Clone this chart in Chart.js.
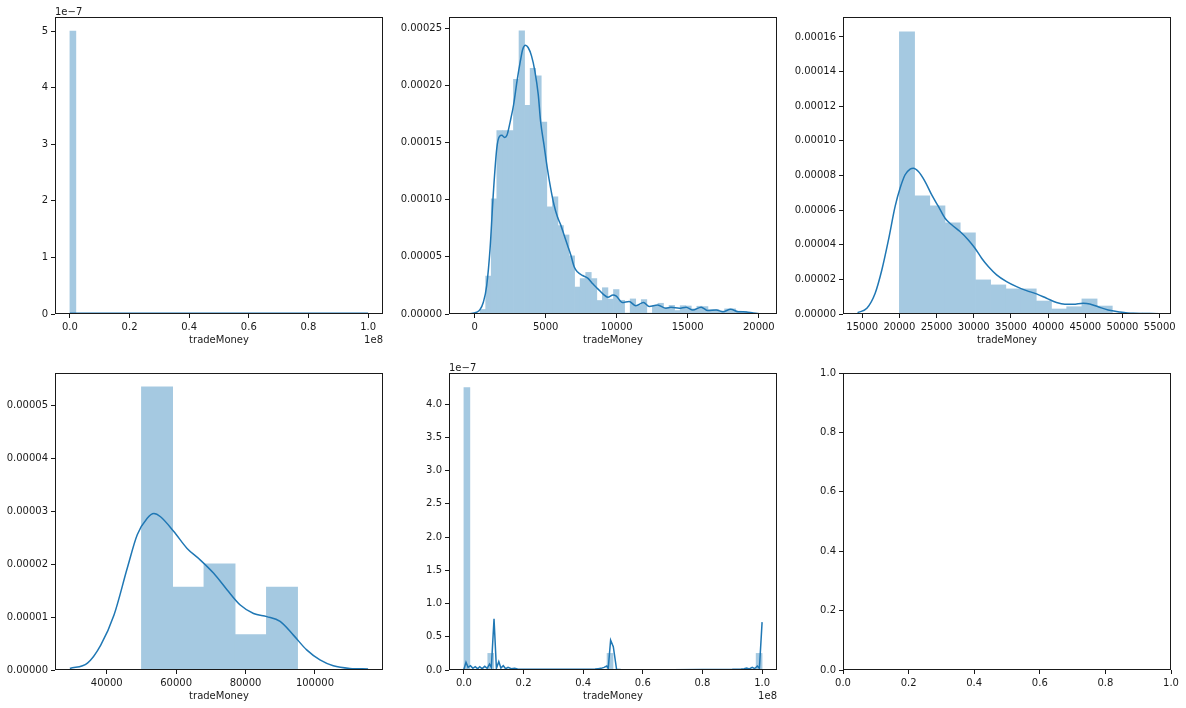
<!DOCTYPE html>
<html>
<head>
<meta charset="utf-8">
<script src="https://cdn.jsdelivr.net/npm/chart.js@4.4.1/dist/chart.umd.min.js"></script>
<style>
  html, body { margin: 0; padding: 0; background: #fff; }
  #fig { position: relative; width: 1186px; height: 708px; overflow: hidden; background: #fff; }
  #fig canvas { position: absolute; }
</style>
</head>
<body>
<div id="fig">
  <canvas id="chart1"></canvas>
  <canvas id="chart2"></canvas>
  <canvas id="chart3"></canvas>
  <canvas id="chart4"></canvas>
  <canvas id="chart5"></canvas>
  <canvas id="chart6"></canvas>
</div>
<script>
// panel 1 : x in units of 1e8, y in units of 1e-7
const p1BinStart = 0.0;
const p1BinWidth = 0.02;
const p1Hist = [
  5.00, 0, 0, 0, 0, 0, 0, 0, 0, 0,
  0, 0, 0, 0, 0, 0, 0, 0, 0, 0,
  0, 0, 0, 0, 0, 0, 0, 0, 0, 0,
  0, 0, 0, 0, 0, 0, 0, 0, 0, 0,
  0, 0, 0, 0, 0, 0, 0, 0, 0, 0
];
const p1KdeX = [0.0, 0.25, 0.5, 0.75, 1.0];
const p1KdeY = [0.012, 0.012, 0.012, 0.012, 0.012];
const p1XTicks = [0.0, 0.2, 0.4, 0.6, 0.8, 1.0];
const p1YTicks = [0, 1, 2, 3, 4, 5];

// panel 2
const p2BinStart = 390;
const p2BinWidth = 391;
const p2Hist = [
  0.0000040, 0.0000332, 0.0001008, 0.0001606, 0.0001606, 0.0001606, 0.0002055, 0.0002478, 0.0001827, 0.0002150,
  0.0002084, 0.0001680, 0.0000938, 0.0001026, 0.0000774, 0.0000692, 0.0000509, 0.0000236, 0.0000310, 0.0000364,
  0.0000310, 0.0000118, 0.0000230, 0.0000130, 0.0000214, 0.0000120, 0.0000008, 0.0000132, 0.0000075, 0.0000126,
  0.0000008, 0.0000073, 0.0000094, 0.0000055, 0.0000075, 0.0000030, 0.0000073, 0.0000070, 0.0000045, 0.0000068,
  0.0000065, 0.0000038, 0.0000038, 0.0000025, 0.0000045, 0.0000045, 0.0000025, 0.0000022, 0.0000015, 0.0000006
];
const p2KdeX = [-806, -332, 142, 379, 616, 853, 1090, 1327, 1564, 1754, 1919, 2109, 2275, 2512, 2749, 2986, 3223,
  3389, 3578, 3768, 4005, 4242, 4479, 4645, 4882, 5118, 5355, 5592, 5829, 6066, 6303, 6540, 6777, 7014, 7251,
  7607, 7962, 8318, 8673, 9029, 9384, 9739, 9976, 10401, 10873, 11344, 11887, 12288, 12877, 13467, 13821, 14410,
  14882, 15354, 15943, 16415, 17005, 17476, 18019, 18538, 19127, 19599, 20259];
const p2KdeY = [0, 0.0000003, 0.0000015, 0.0000038, 0.0000103, 0.0000249, 0.0000572, 0.0001071, 0.0001452,
  0.0001555, 0.0001564, 0.0001546, 0.0001564, 0.0001687, 0.0001834, 0.0002039, 0.0002215, 0.0002318, 0.0002353,
  0.0002333, 0.0002260, 0.0002127, 0.0001922, 0.0001687, 0.0001482, 0.0001276, 0.0001100, 0.0000954, 0.0000851,
  0.0000778, 0.0000690, 0.0000602, 0.0000514, 0.0000411, 0.0000367, 0.0000337, 0.0000314, 0.0000264, 0.0000220,
  0.0000176, 0.0000147, 0.0000167, 0.0000156, 0.0000100, 0.0000110, 0.0000072, 0.0000100, 0.0000065, 0.0000078,
  0.0000050, 0.0000058, 0.0000050, 0.0000060, 0.0000035, 0.0000060, 0.0000030, 0.0000035, 0.0000020, 0.0000042,
  0.0000020, 0.0000018, 0.0000008, 0.0000001];
const p2XTicks = [0, 5000, 10000, 15000, 20000];
const p2YTicks = [0, 0.00005, 0.0001, 0.00015, 0.0002, 0.00025];

// panel 3
const p3BinStart = 20000;
const p3BinWidth = 2045;
const p3Hist = [0.0001629, 0.0000682, 0.0000625, 0.0000526, 0.0000468, 0.0000197, 0.0000168, 0.0000145, 0.0000145,
  0.0000075, 0.0000029, 0.0000042, 0.0000087, 0.0000046, 0.0000005, 0.0000005, 0.0000005];
const p3KdeX = [14374, 15626, 16745, 17640, 18534, 19429, 20100, 20771, 21443, 21890, 22561, 23456, 24351, 25246,
  26140, 27035, 28154, 29272, 30167, 31062, 31957, 33075, 34417, 35759, 37101, 38444, 39786, 41128, 42246, 43365,
  44707, 45602, 46720, 48063, 49629, 51418, 54550];
const p3KdeY = [0.0000008, 0.0000033, 0.0000120, 0.0000254, 0.0000428, 0.0000621, 0.0000727, 0.0000804, 0.0000837,
  0.0000842, 0.0000823, 0.0000765, 0.0000688, 0.0000621, 0.0000553, 0.0000515, 0.0000476, 0.0000428, 0.0000380,
  0.0000322, 0.0000274, 0.0000226, 0.0000187, 0.0000158, 0.0000135, 0.0000116, 0.0000091, 0.0000066, 0.0000056,
  0.0000056, 0.0000062, 0.0000058, 0.0000042, 0.0000023, 0.0000012, 0.0000004, 0.0000002];
const p3XTicks = [15000, 20000, 25000, 30000, 35000, 40000, 45000, 50000, 55000];
const p3YTicks = [0, 0.00002, 0.00004, 0.00006, 0.00008, 0.0001, 0.00012, 0.00014, 0.00016];

// panel 4
const p4BinStart = 50000;
const p4BinWidth = 9000;
const p4Hist = [0.0000536, 0.0000157, 0.0000201, 0.0000067, 0.0000157];
const p4KdeX = [29380, 34450, 38280, 42100, 45930, 48800, 51670, 53590, 55500, 59330, 63160, 66990, 70820, 74650,
  78470, 82300, 86130, 89960, 93790, 97610, 101440, 105270, 110050, 115300];
const p4KdeY = [0.0000003, 0.0000013, 0.0000047, 0.0000104, 0.0000193, 0.0000256, 0.0000287, 0.0000296, 0.0000290,
  0.0000262, 0.0000230, 0.0000208, 0.0000183, 0.0000152, 0.0000123, 0.0000107, 0.0000101, 0.0000092, 0.0000066,
  0.0000038, 0.0000019, 0.0000008, 0.0000003, 0.0000002];
const p4XTicks = [40000, 60000, 80000, 100000];
const p4YTicks = [0, 0.00001, 0.00002, 0.00003, 0.00004, 0.00005];

// panel 5 : x in units of 1e8, y in units of 1e-7
const p5BinStart = 0.0;
const p5BinWidth = 0.02;
const p5Hist = [
  4.25, 0, 0, 0, 0.25, 0, 0, 0, 0, 0,
  0, 0, 0, 0, 0, 0, 0, 0, 0, 0,
  0, 0, 0, 0, 0.25, 0, 0, 0, 0, 0,
  0, 0, 0, 0, 0, 0, 0, 0, 0, 0,
  0, 0, 0, 0, 0, 0, 0, 0, 0, 0.25
];
const p5KdeX = [0.000, 0.007, 0.014, 0.022, 0.030, 0.038, 0.046, 0.053, 0.061, 0.070, 0.078, 0.086, 0.092, 0.101,
  0.109, 0.117, 0.124, 0.132, 0.140, 0.148, 0.159, 0.170, 0.180, 0.200, 0.250, 0.300, 0.350, 0.400, 0.440, 0.450,
  0.460, 0.470, 0.479, 0.484, 0.492, 0.501, 0.512, 0.530, 0.600, 0.700, 0.800, 0.900, 0.930, 0.940, 0.948, 0.957,
  0.967, 0.975, 0.984, 0.991, 1.000];
const p5KdeY = [0.01, 0.116, 0.04, 0.065, 0.025, 0.05, 0.02, 0.05, 0.02, 0.055, 0.025, 0.09, 0.04, 0.77,
  0.025, 0.126, 0.03, 0.065, 0.02, 0.04, 0.02, 0.025, 0.015, 0.012, 0.01, 0.01, 0.01, 0.012, 0.015, 0.02,
  0.025, 0.04, 0.06, 0.025, 0.45, 0.35, 0.01, 0.005, 0.005, 0.005, 0.006, 0.01, 0.015, 0.02, 0.03, 0.015,
  0.04, 0.02, 0.06, 0.025, 0.72];
const p5XTicks = [0.0, 0.2, 0.4, 0.6, 0.8, 1.0];
const p5YTicks = [0.0, 0.5, 1.0, 1.5, 2.0, 2.5, 3.0, 3.5, 4.0];

// panel 6 (empty axes)
const p6XTicks = [0.0, 0.2, 0.4, 0.6, 0.8, 1.0];
const p6YTicks = [0.0, 0.2, 0.4, 0.6, 0.8, 1.0];

const xLabel = "tradeMoney";

// layout: axes boxes [left, top, right, bottom] in page pixels
const axesBoxes = [
  [55, 17, 383, 314], [449, 17, 777, 314], [843, 17, 1171, 314],
  [55, 373, 383, 670], [449, 373, 777, 670], [843, 373, 1171, 670]
];
const PL = 55, PT = 16, PR = 18, PB = 38;

// #1f77b4 at alpha 0.4 over white, opaque so adjacent bars leave no seams
const BAR_COLOR = "rgb(165, 201, 225)";
const LINE_COLOR = "#1f77b4";
const TEXT_COLOR = "#1a1a1a";
const FONT = { family: "'DejaVu Sans', sans-serif", size: 10 };

// spines on all four sides + matplotlib offset text
const axesFrame = {
  id: "axesFrame",
  afterDraw(chart, args, opts) {
    const { ctx, chartArea: a } = chart;
    ctx.save();
    ctx.strokeStyle = TEXT_COLOR;
    ctx.lineWidth = 1;
    ctx.strokeRect(a.left + 0.5, a.top + 0.5, a.right - a.left - 1, a.bottom - a.top - 1);
    ctx.fillStyle = TEXT_COLOR;
    ctx.font = "10px 'DejaVu Sans', sans-serif";
    ctx.textBaseline = "alphabetic";
    if (opts.yOffset) {
      ctx.textAlign = "left";
      ctx.fillText(opts.yOffset, a.left, a.top - 2);
    }
    if (opts.xOffset) {
      ctx.textAlign = "right";
      ctx.fillText(opts.xOffset, a.right, a.bottom + 29);
    }
    ctx.restore();
  }
};

function histPoints(start, width, heights) {
  return heights.map((h, i) => ({ x: start + width * (i + 0.5), y: h }));
}

function kdePoints(xs, ys) {
  return xs.map((x, i) => ({ x: x, y: ys[i] }));
}

function makeAxis(tickList, min, max, decimals, isX, title) {
  return {
    type: "linear",
    min: min,
    max: max,
    offset: false,
    afterBuildTicks: (s) => { s.ticks = tickList.map(v => ({ value: v })); },
    afterFit: (s) => { if (isX) s.height = PB; else s.width = PL; },
    ticks: {
      callback: (v) => Number(v).toFixed(decimals),
      color: TEXT_COLOR,
      font: FONT,
      padding: 3,
      maxRotation: 0,
      autoSkip: false
    },
    grid: {
      display: true,
      drawOnChartArea: false,
      drawTicks: true,
      tickLength: 4,
      tickColor: TEXT_COLOR,
      tickWidth: 1,
      offset: false
    },
    border: { display: false },
    title: title ? {
      display: true,
      text: title,
      color: TEXT_COLOR,
      font: FONT,
      padding: { top: 0, bottom: 6 }
    } : { display: false }
  };
}

function placeCanvas(id, box) {
  const cv = document.getElementById(id);
  const w = (box[2] - box[0]) + PL + PR;
  const h = (box[3] - box[1]) + PT + PB;
  cv.width = w;
  cv.height = h;
  cv.style.left = (box[0] - PL) + "px";
  cv.style.top = (box[1] - PT) + "px";
  cv.style.width = w + "px";
  cv.style.height = h + "px";
  return cv;
}

function distPanel(id, box, p) {
  const cv = placeCanvas(id, box);
  return new Chart(cv, {
    type: "bar",
    data: {
      datasets: [
        {
          type: "line",
          data: kdePoints(p.kdeX, p.kdeY),
          borderColor: LINE_COLOR,
          borderWidth: 1.5,
          pointRadius: 0,
          fill: false,
          tension: 0,
          cubicInterpolationMode: p.jagged ? "default" : "monotone"
        },
        {
          type: "bar",
          data: histPoints(p.binStart, p.binWidth, p.hist),
          backgroundColor: BAR_COLOR,
          borderWidth: 0,
          barPercentage: 1.0,
          categoryPercentage: 1.0
        }
      ]
    },
    options: {
      responsive: false,
      animation: false,
      devicePixelRatio: 1,
      layout: { padding: { left: 0, top: PT, right: PR, bottom: 0 } },
      plugins: {
        legend: { display: false },
        tooltip: { enabled: false },
        axesFrame: { yOffset: p.yOffset, xOffset: p.xOffset }
      },
      scales: {
        x: makeAxis(p.xTicks, p.xMin, p.xMax, p.xDec, true, xLabel),
        y: makeAxis(p.yTicks, 0, p.yMax, p.yDec, false, null)
      }
    },
    plugins: [axesFrame]
  });
}

distPanel("chart1", axesBoxes[0], {
  binStart: p1BinStart, binWidth: p1BinWidth, hist: p1Hist, kdeX: p1KdeX, kdeY: p1KdeY, jagged: true,
  xTicks: p1XTicks, yTicks: p1YTicks, xMin: -0.05, xMax: 1.05, yMax: 5.25, xDec: 1, yDec: 0,
  yOffset: "1e\u22127", xOffset: "1e8"
});

distPanel("chart2", axesBoxes[1], {
  binStart: p2BinStart, binWidth: p2BinWidth, hist: p2Hist, kdeX: p2KdeX, kdeY: p2KdeY, jagged: false,
  xTicks: p2XTicks, yTicks: p2YTicks, xMin: -1800, xMax: 21280, yMax: 0.00026, xDec: 0, yDec: 5
});

distPanel("chart3", axesBoxes[2], {
  binStart: p3BinStart, binWidth: p3BinWidth, hist: p3Hist, kdeX: p3KdeX, kdeY: p3KdeY, jagged: false,
  xTicks: p3XTicks, yTicks: p3YTicks, xMin: 12420, xMax: 56520, yMax: 0.0001715, xDec: 0, yDec: 5
});

distPanel("chart4", axesBoxes[3], {
  binStart: p4BinStart, binWidth: p4BinWidth, hist: p4Hist, kdeX: p4KdeX, kdeY: p4KdeY, jagged: false,
  xTicks: p4XTicks, yTicks: p4YTicks, xMin: 25100, xMax: 119600, yMax: 0.0000562, xDec: 0, yDec: 5
});

distPanel("chart5", axesBoxes[4], {
  binStart: p5BinStart, binWidth: p5BinWidth, hist: p5Hist, kdeX: p5KdeX, kdeY: p5KdeY, jagged: true,
  xTicks: p5XTicks, yTicks: p5YTicks, xMin: -0.05, xMax: 1.05, yMax: 4.47, xDec: 1, yDec: 1,
  yOffset: "1e\u22127", xOffset: "1e8"
});

// empty sixth axes
const cv6 = placeCanvas("chart6", axesBoxes[5]);
new Chart(cv6, {
  type: "scatter",
  data: { datasets: [] },
  options: {
    responsive: false,
    animation: false,
    devicePixelRatio: 1,
    layout: { padding: { left: 0, top: PT, right: PR, bottom: 0 } },
    plugins: { legend: { display: false }, tooltip: { enabled: false }, axesFrame: {} },
    scales: {
      x: makeAxis(p6XTicks, 0, 1, 1, true, null),
      y: makeAxis(p6YTicks, 0, 1, 1, false, null)
    }
  },
  plugins: [axesFrame]
});
</script>
</body>
</html>
